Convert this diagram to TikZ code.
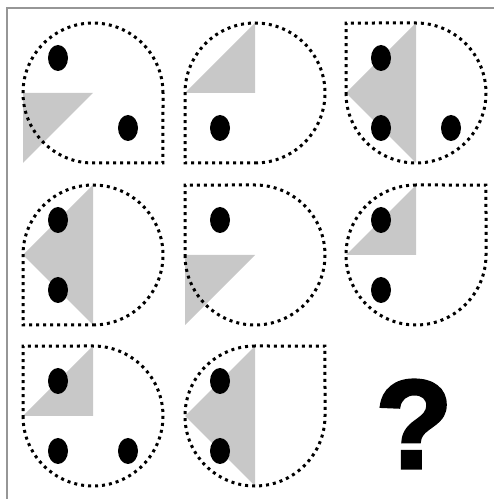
\documentclass[tikz,border=0pt]{standalone}
\usepackage{fontspec}
\newfontfamily\qfont[FakeBold=2.5]{Liberation Sans Bold}
\usetikzlibrary{calc}
\definecolor{shadegray}{RGB}{200,200,200}
\definecolor{framegray}{RGB}{150,150,150}

% teardrop outline: #1 centre, #2 direction of the square corner
\newcommand{\drop}[2]{%
    \draw[outline] ($(#1)+(#2+45:70)$) arc[start angle=#2+45, delta angle=270, radius=70]
        -- ($(#1)+(#2:98.99)$) -- cycle;}

\begin{document}
\begin{tikzpicture}[
    x=1pt, y=1pt,
    outline/.style={draw=black, line width=3pt, dash pattern=on 3pt off 4pt},
    shade/.style={fill=shadegray},
    spot/.style={fill=black},
    frame/.style={draw=framegray, line width=1.4pt}
]
    \useasboundingbox (0,0) rectangle (494,499);
    \draw[frame] (494,491) -- (7,491) -- (7,0);

    % tile centres
    \coordinate (t1) at (93,406);
    \coordinate (t2) at (255,406);
    \coordinate (t3) at (416,406);
    \coordinate (t4) at (93,244);
    \coordinate (t5) at (255,244);
    \coordinate (t6) at (416,244);
    \coordinate (t7) at (93,83);
    \coordinate (t8) at (255,83);

    % grey triangles
    \foreach \t in {t1,t5}
        \fill[shade] ($(\t)+(-70,0)$) -- (\t) -- ($(\t)+(-70,-70)$) -- cycle;
    \foreach \t in {t2,t6,t7}
        \fill[shade] ($(\t)+(-70,0)$) -- (\t) -- ($(\t)+(0,70)$) -- cycle;
    \foreach \t in {t3,t4,t8}
        \fill[shade] ($(\t)+(0,70)$) -- ($(\t)+(-70,0)$) -- ($(\t)+(0,-70)$) -- cycle;

    % outlines
    \drop{t1}{315}
    \drop{t2}{225}
    \drop{t3}{135}
    \drop{t4}{225}
    \drop{t5}{135}
    \drop{t6}{45}
    \drop{t7}{135}
    \drop{t8}{45}

    % black spots
    \foreach \t/\dx/\dy in {t1/-35/35, t1/35/-35,
                            t2/-35/-35,
                            t3/-35/35, t3/-35/-35, t3/35/-35,
                            t4/-35/35, t4/-35/-35,
                            t5/-35/35,
                            t6/-35/35, t6/-35/-35,
                            t7/-35/35, t7/-35/-35, t7/35/-35,
                            t8/-35/35, t8/-35/-35}
        \fill[spot] ($(\t)+(\dx,\dy)$) ellipse[x radius=10, y radius=13];

    \node[font=\qfont\fontsize{126}{126}\selectfont, inner sep=0pt] (qmark) at (414,75) {?};
\end{tikzpicture}
\end{document}
